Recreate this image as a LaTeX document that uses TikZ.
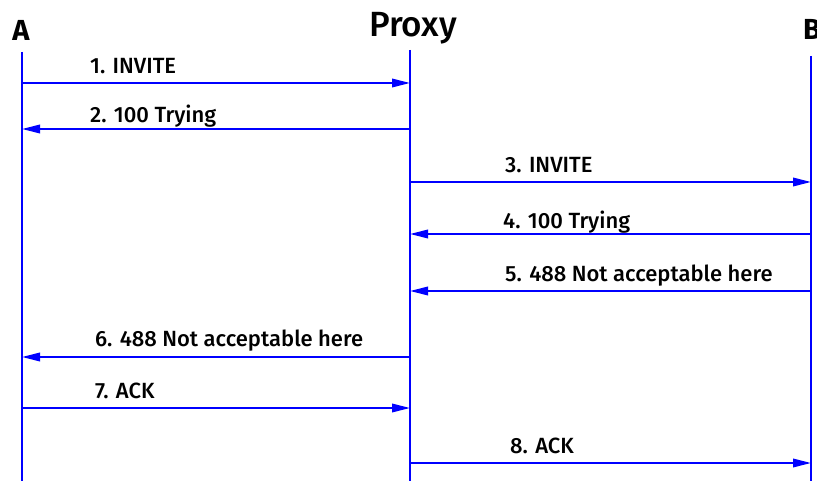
\documentclass[tikz,border=0pt]{standalone}
\usepackage{fontspec}
\setmainfont{Fira Sans}[UprightFont=* Medium, BoldFont=* Bold]
\usetikzlibrary{arrows.meta}

\begin{document}
\begin{tikzpicture}[x=1pt, y=-1pt, >={Triangle[length=18pt,width=8.5pt]},
    vida/.style={blue, line width=1.9pt},
    msg/.style={blue, line width=1.9pt, ->},
    rotulo/.style={anchor=base west, inner sep=0pt, font=\fontsize{22}{26}\selectfont},
    titulo/.style={anchor=base, inner sep=0pt}]

    \useasboundingbox (0,0) rectangle (817,481);

    % Posições das linhas de vida
    \def\xA{22}      % participante A
    \def\xP{410}     % proxy
    \def\xB{811}     % participante B

    % Participantes
    \node[titulo, font=\fontsize{29}{32}\selectfont\bfseries] (A) at (\xA-1,41) {A};
    \node[titulo, font=\fontsize{35}{38}\selectfont] (Proxy) at (\xP+3,37) {Proxy};
    \node[titulo, font=\fontsize{29}{32}\selectfont\bfseries] (B) at (\xB+1,40) {B};

    % Linhas de vida
    \coordinate (A topo) at (\xA,52);
    \coordinate (A fim) at (\xA,485);
    \coordinate (Proxy topo) at (\xP,50);
    \coordinate (Proxy fim) at (\xP,485);
    \coordinate (B topo) at (\xB,56);
    \coordinate (B fim) at (\xB,485);
    \draw[vida] (A topo) -- (A fim);
    \draw[vida] (Proxy topo) -- (Proxy fim);
    \draw[vida] (B topo) -- (B fim);

    % Mensagens: altura da seta / origem / destino / rótulo (x, linha de base) / texto
    \foreach \y/\de/\para/\xt/\yt/\txt [count=\n] in {
        83/\xA/\xP/90/74/{1. INVITE},
        129/\xP/\xA/90/123/{2. 100 Trying},
        182/\xP/\xB/505/173/{3. INVITE},
        234/\xB/\xP/503/229/{4. 100 Trying},
        291/\xB/\xP/505/282/{5. 488 Not acceptable here},
        357/\xP/\xA/95/346/{6. 488 Not acceptable here},
        408/\xA/\xP/95/398/{7. ACK},
        463/\xP/\xB/510/453/{8. ACK}} {
        \coordinate (m\n a) at (\de,\y);
        \coordinate (m\n b) at (\para,\y);
        \draw[msg] (m\n a) -- (m\n b);
        \node[rotulo] (r\n) at (\xt,\yt) {\txt};
    }

\end{tikzpicture}
\end{document}
